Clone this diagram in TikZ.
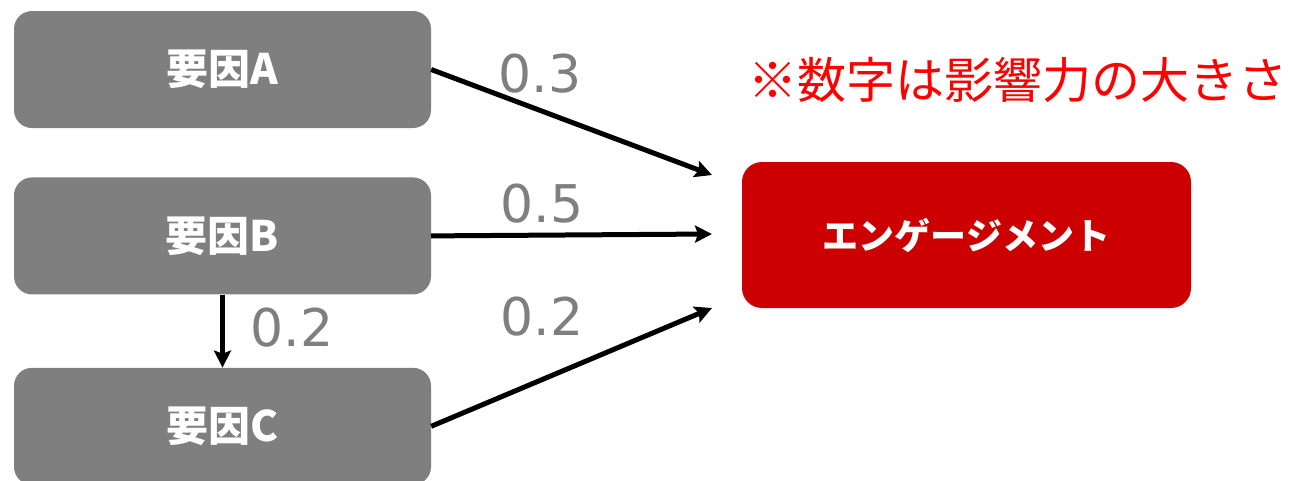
\documentclass[tikz,border=0pt]{standalone}
\usepackage{fontspec}
\newfontfamily\jpfont{Noto Sans CJK JP}
\newfontfamily\numfont{DejaVu Sans}
\usetikzlibrary{arrows.meta, positioning}
\definecolor{factorgray}{HTML}{7F7F7F}
\definecolor{engred}{HTML}{CC0000}
\definecolor{notered}{HTML}{FF0000}

\begin{document}
\begin{tikzpicture}[
        x=1pt, y=-1pt,
        factor/.style={rectangle, fill=factorgray, minimum width=417pt, minimum height=117pt,
                        rounded corners=18pt, text=white, font=\jpfont\bfseries\fontsize{42}{48}\selectfont},
        target/.style={rectangle, fill=engred, minimum width=449pt, minimum height=146pt,
                        rounded corners=20pt, text=white, font=\jpfont\bfseries\fontsize{36}{44}\selectfont},
        weight/.style={text=factorgray, inner sep=0pt, font=\numfont\fontsize{52}{60}\selectfont},
        note/.style={text=notered, inner sep=0pt, font=\jpfont\fontsize{49}{56}\selectfont},
        arrow/.style={line width=5pt, -{Stealth[length=17pt, width=17pt, inset=3pt]}}
    ]
        \useasboundingbox (0,0) rectangle (1289,480);

        \node[factor] (factorA) at (222.5,69.5) {要因A};
        \node[factor, below=49pt of factorA] (factorB) {要因B};
        \node[factor, below=73pt of factorB] (factorC) {要因C};

        \node[target] (engage) at (966.5,235) {エンゲージメント};
        \node[note] (remark) at (1018,80) {※数字は影響力の大きさ};

        \coordinate (inA) at (712,175);
        \coordinate (inB) at (712,234);
        \coordinate (inC) at (712,308);

        \draw[arrow] (factorA.east) -- (inA);
        \draw[arrow] (factorB.east) -- (inB);
        \draw[arrow] (factorC.east) -- (inC);
        \draw[arrow] (factorB.south) -- (factorC.north);

        \node[weight] (wA) at (540,74) {0.3};
        \node[weight] (wB) at (542,204) {0.5};
        \node[weight] (wC) at (542,317) {0.2};
        \node[weight] (wBC) at (292,328) {0.2};
    \end{tikzpicture}
\end{document}
